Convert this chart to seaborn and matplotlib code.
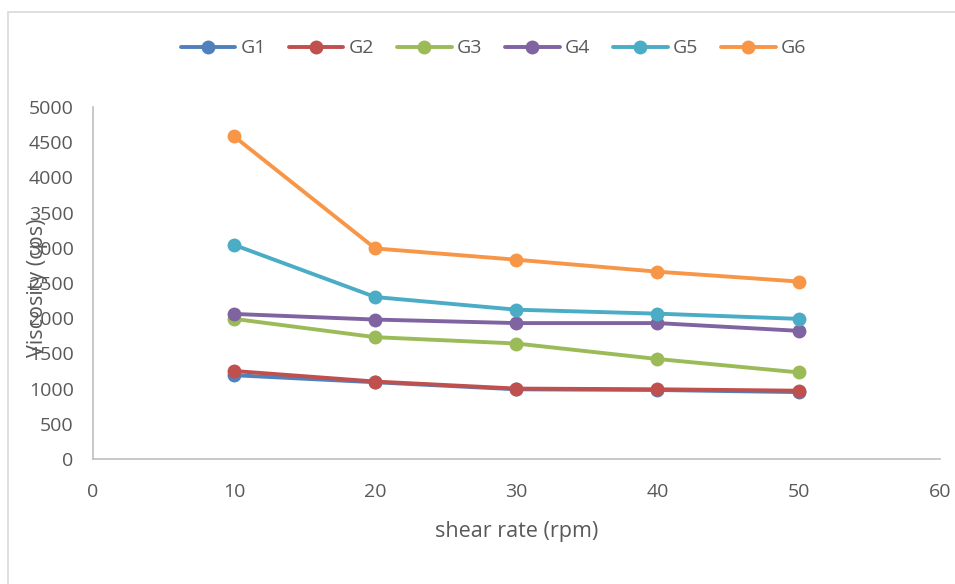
import matplotlib
matplotlib.use("Agg")
import matplotlib.pyplot as plt
import seaborn as sns
import pandas as pd
from matplotlib.patches import Rectangle

shear_rate = [10, 20, 30, 40, 50]
G1 = [1190, 1090, 990, 980, 950]
G2 = [1250, 1100, 1000, 990, 970]
G3 = [1990, 1730, 1640, 1420, 1230]
G4 = [2060, 1980, 1930, 1930, 1820]
G5 = [3040, 2300, 2120, 2064, 1990]
G6 = [4580, 2990, 2830, 2660, 2520]
series_names = ["G1", "G2", "G3", "G4", "G5", "G6"]
colors = ["#4F81BD", "#C0504D", "#9BBB59", "#8064A2", "#4BACC6", "#F79646"]

rows = []
for name, vals in zip(series_names, [G1, G2, G3, G4, G5, G6]):
    for x, v in zip(shear_rate, vals):
        rows.append({"shear rate (rpm)": x, "Viscosity (cps)": v, "series": name})
df = pd.DataFrame(rows)

sns.set_theme(style="white")
plt.rcParams["font.family"] = ["Open Sans", "DejaVu Sans"]

fig = plt.figure(figsize=(9.55, 5.84), dpi=100)
ax = fig.add_axes([0.0974, 0.214, 0.8866, 0.603])

sns.lineplot(data=df, x="shear rate (rpm)", y="Viscosity (cps)", hue="series",
             palette=colors, marker="o", markersize=10, markeredgewidth=0,
             linewidth=2.8, ax=ax, legend=True)

ax.set_xlim(0, 60)
ax.set_ylim(0, 5000)
ax.set_xticks(range(0, 61, 10))
ax.set_yticks(range(0, 5001, 500))
ax.tick_params(axis="both", length=0, labelsize=14, labelcolor="#595959")
ax.tick_params(axis="y", pad=14)
ax.tick_params(axis="x", pad=17)
for s in ["top", "right"]:
    ax.spines[s].set_visible(False)
for s in ["left", "bottom"]:
    ax.spines[s].set_color("#BFBFBF")
    ax.spines[s].set_linewidth(1.2)

ax.set_xlabel("shear rate (rpm)", fontsize=15.5, color="#595959")
ax.xaxis.set_label_coords(0.5, -0.176)
ax.set_ylabel("Viscosity (cps)", fontsize=15.5, color="#595959")
ax.yaxis.set_label_coords(-0.053, 0.485)

handles, labels = ax.get_legend_handles_labels()
leg = ax.legend(handles, labels, loc="center", bbox_to_anchor=(0.473, 1.166),
                ncol=6, frameon=False, fontsize=14, handlelength=2.8,
                columnspacing=1.2, handletextpad=0.25)
for t in leg.get_texts():
    t.set_color("#595959")

fig.patches.append(Rectangle((8 / 955, -0.05), 1.1, 1 - 12 / 584 + 0.05,
                             transform=fig.transFigure, fill=False,
                             edgecolor="#D9D9D9", linewidth=1.2))

fig.savefig("out.png", dpi=100)
